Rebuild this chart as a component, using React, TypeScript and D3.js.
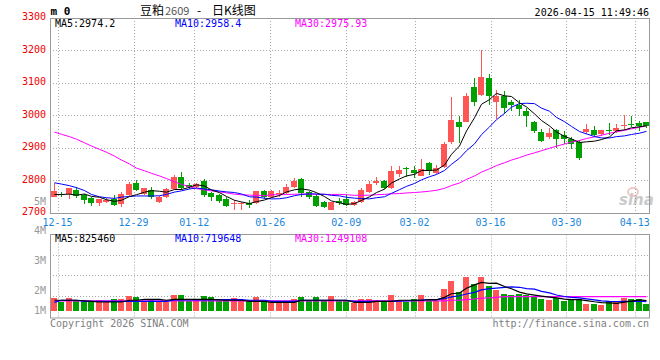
import React, { useEffect, useRef } from 'react';
import * as d3 from 'd3';

// trading days 2025-12-12 .. 2026-04-15 (MM-DD)
const dates = [
  '12-12', '12-15', '12-16', '12-17', '12-18', '12-19', '12-22', '12-23', '12-24', '12-25', '12-26', '12-29', '12-30', '12-31',
  '01-05', '01-06', '01-07', '01-08', '01-09', '01-12', '01-13', '01-14', '01-15', '01-16', '01-19', '01-20', '01-21', '01-22', '01-23',
  '01-26', '01-27', '01-28', '01-29', '01-30', '02-02', '02-03', '02-04', '02-05', '02-06', '02-09', '02-10', '02-11', '02-12', '02-13',
  '02-24', '02-25', '02-26', '02-27', '03-02', '03-03', '03-04', '03-05', '03-06', '03-09', '03-10', '03-11', '03-12', '03-13',
  '03-16', '03-17', '03-18', '03-19', '03-20', '03-23', '03-24', '03-25', '03-26', '03-27', '03-30', '03-31', '04-01', '04-02', '04-03',
  '04-07', '04-08', '04-09', '04-10', '04-13', '04-14', '04-15',
];

const openP = [
  2750, 2760, 2757, 2771, 2756, 2745, 2730, 2734, 2742, 2727,
  2756, 2791, 2758, 2771, 2734, 2748, 2773, 2812, 2785, 2779,
  2798, 2762, 2755, 2743, 2727, 2728, 2732, 2730, 2768, 2750,
  2760, 2762, 2780, 2804, 2765, 2752, 2733, 2710, 2738, 2743,
  2725, 2735, 2765, 2792, 2797, 2777, 2819, 2838, 2833, 2815,
  2855, 2822, 2841, 2917, 2979, 2981, 3089, 3064, 3114, 3042,
  3061, 3042, 3032, 3014, 2979, 2949, 2934, 2954, 2941, 2928,
  2917, 2949, 2956, 2942, 2955, 2952, 2968, 2975, 2976, 2979,
];
const highP = [
  2791, 2766, 2778, 2781, 2760, 2750, 2744, 2746, 2755, 2765,
  2796, 2801, 2778, 2781, 2752, 2777, 2816, 2827, 2792, 2793,
  2805, 2766, 2760, 2750, 2740, 2735, 2740, 2768, 2770, 2772,
  2770, 2788, 2807, 2807, 2768, 2758, 2737, 2735, 2746, 2757,
  2737, 2776, 2800, 2810, 2802, 2845, 2846, 2843, 2845, 2866,
  2856, 2847, 2917, 3057, 2997, 3069, 3115, 3203, 3129, 3079,
  3074, 3047, 3049, 3024, 2984, 2957, 2961, 2957, 2952, 2934,
  2924, 2975, 2969, 2956, 2977, 2975, 3001, 2998, 2983, 2980,
];
const lowP = [
  2748, 2750, 2743, 2747, 2727, 2723, 2722, 2731, 2722, 2717,
  2753, 2769, 2756, 2742, 2730, 2745, 2771, 2771, 2775, 2776,
  2749, 2737, 2732, 2720, 2710, 2708, 2715, 2728, 2743, 2747,
  2750, 2758, 2777, 2750, 2744, 2717, 2715, 2709, 2725, 2723,
  2722, 2732, 2762, 2787, 2775, 2775, 2812, 2812, 2809, 2813,
  2818, 2819, 2839, 2912, 2914, 2979, 3029, 3061, 3031, 2989,
  3004, 3014, 2997, 2964, 2947, 2919, 2929, 2899, 2911, 2897,
  2862, 2944, 2934, 2937, 2941, 2945, 2955, 2964, 2951, 2962,
];
const closeP = [
  2768, 2756, 2776, 2751, 2741, 2732, 2742, 2739, 2725, 2758,
  2789, 2771, 2777, 2748, 2750, 2774, 2812, 2778, 2781, 2789,
  2756, 2750, 2737, 2723, 2730, 2730, 2725, 2767, 2748, 2767,
  2762, 2780, 2800, 2762, 2748, 2723, 2720, 2733, 2732, 2724,
  2735, 2770, 2788, 2797, 2777, 2829, 2833, 2834, 2822, 2836,
  2830, 2839, 2911, 2987, 2964, 3061, 3042, 3119, 3059, 3059,
  3024, 3031, 3021, 2997, 2952, 2922, 2947, 2929, 2929, 2912,
  2868, 2957, 2939, 2954, 2952, 2963, 2970, 2972, 2969, 2968,
];

const ma5 = [
  2757, 2757, 2758, 2755, 2758.4, 2751.2, 2748.4, 2741, 2735.8, 2739.2,
  2750.6, 2756.4, 2764, 2768.6, 2767, 2764, 2772.2, 2772.4, 2779, 2786.8,
  2783.2, 2770.8, 2762.6, 2751, 2739.2, 2734, 2729, 2735, 2740, 2747.4,
  2753.8, 2764.8, 2771.4, 2774.2, 2770.4, 2762.6, 2750.6, 2737.2, 2731.2, 2726.4,
  2728.8, 2738.8, 2749.8, 2762.8, 2773.4, 2792.2, 2804.8, 2814, 2819, 2830.8,
  2831, 2832.2, 2847.6, 2880.6, 2906.2, 2952.4, 2993, 3034.6, 3049, 3068,
  3060.6, 3058.4, 3038.8, 3026.4, 3005, 2984.6, 2967.8, 2949.4, 2935.8, 2927.8,
  2917, 2919, 2921, 2926, 2934, 2953, 2955.6, 2962.2, 2965.2, 2968.4,
];
const ma10 = [
  2793, 2789, 2784, 2778, 2769, 2757, 2750, 2747, 2745, 2748.8,
  2750.9, 2752.4, 2752.5, 2752.2, 2753.1, 2757.3, 2764.3, 2768.2, 2773.8, 2776.9,
  2773.6, 2771.5, 2767.5, 2765, 2763, 2758.6, 2749.9, 2748.8, 2745.5, 2743.3,
  2743.9, 2746.9, 2753.2, 2757.1, 2758.9, 2758.2, 2757.7, 2754.3, 2752.7, 2748.4,
  2745.7, 2744.7, 2743.5, 2747, 2749.9, 2760.5, 2771.8, 2781.9, 2790.9, 2802.1,
  2811.6, 2818.5, 2830.8, 2849.8, 2868.5, 2891.7, 2912.6, 2941.1, 2964.8, 2987.1,
  3006.5, 3025.7, 3036.7, 3037.7, 3036.5, 3022.6, 3013.1, 2994.1, 2981.1, 2966.4,
  2950.8, 2943.4, 2935.2, 2930.9, 2930.9, 2935, 2937.3, 2941.6, 2945.6, 2951.2,
];
const ma30 = [
  2949, 2942, 2935, 2927, 2916, 2906, 2896, 2887, 2875, 2863,
  2851, 2838, 2830, 2822, 2814, 2806, 2796, 2788, 2781, 2775,
  2771, 2768, 2765, 2762, 2758, 2756, 2755, 2754, 2753, 2756.3,
  2756.1, 2756.9, 2757.7, 2758.1, 2758.3, 2758, 2757.3, 2757.1, 2757.3, 2756.2,
  2754.4, 2754.4, 2754.7, 2756.4, 2757.3, 2759.1, 2759.8, 2761.7, 2763, 2764.6,
  2767.1, 2770, 2775.8, 2784.6, 2792.4, 2803.5, 2814, 2825.8, 2836.1, 2845.9,
  2854.6, 2863, 2870.3, 2878.2, 2885, 2891.6, 2899.2, 2905.7, 2912.3, 2918.5,
  2923, 2929.2, 2934.2, 2939.5, 2945.3, 2949.8, 2954.3, 2958.9, 2963.8, 2968.2,
];

// volume, thousand lots
const volume = [
  1110, 790, 1110, 850, 850, 850, 940, 760, 1020, 1020,
  1290, 1200, 760, 940, 760, 760, 1370, 1370, 850, 940,
  1290, 1200, 850, 1020, 1110, 940, 850, 1200, 850, 760,
  760, 760, 1020, 1200, 850, 1200, 850, 1290, 850, 850,
  670, 1020, 1020, 940, 760, 1370, 940, 760, 1020, 1370,
  850, 850, 1900, 2600, 1670, 2950, 2340, 2950, 2160, 1810,
  1460, 1370, 1460, 1370, 1290, 1020, 940, 1110, 850, 1020,
  1020, 580, 580, 500, 850, 850, 1110, 1020, 1020, 580,
];
const volMa5 = [
  940, 940, 940, 940, 900, 850, 790, 790, 790, 790,
  940, 940, 1020, 1020, 1020, 940, 1020, 1020, 1020, 1020,
  1020, 1020, 970, 940, 940, 940, 850, 850, 850, 760,
  760, 760, 760, 940, 940, 940, 940, 940, 940, 940,
  760, 760, 760, 850, 850, 850, 940, 940, 940, 940,
  988, 970, 1198, 1514, 1574, 1994, 2292, 2502, 2414, 2442,
  2144, 1950, 1652, 1494, 1390, 1302, 1216, 1146, 1042, 988,
  988, 916, 810, 740, 706, 672, 778, 866, 970, 916,
];
const volMa10 = [
  760, 940, 940, 940, 850, 850, 850, 850, 850, 850,
  850, 850, 850, 850, 850, 850, 970, 970, 970, 970,
  970, 970, 990, 990, 990, 990, 940, 940, 940, 850,
  850, 850, 850, 940, 940, 940, 940, 940, 940, 940,
  850, 850, 850, 850, 850, 850, 860, 880, 920, 960,
  1005, 988, 1076, 1242, 1333, 1491, 1631, 1850, 1964, 2008,
  2069, 2121, 2077, 1954, 1916, 1723, 1583, 1399, 1268, 1189,
  1145, 1066, 978, 891, 847, 830, 847, 838, 855, 811,
];
const volMa30 = [
  880, 880, 880, 880, 880, 880, 880, 880, 880, 880,
  880, 880, 880, 880, 880, 880, 880, 880, 880, 880,
  880, 880, 880, 880, 880, 880, 880, 880, 880, 880,
  880, 880, 880, 880, 880, 880, 880, 880, 880, 880,
  880, 880, 880, 880, 880, 880, 880, 880, 880, 880,
  880, 880, 880, 940, 960, 1000, 1050, 1120, 1150, 1200,
  1260, 1260, 1260, 1260, 1260, 1260, 1260, 1260, 1260, 1260,
  1260, 1260, 1260, 1260, 1260, 1260, 1260, 1260, 1260, 1260,
];

const priceTicks = [2700, 2800, 2900, 3000, 3100, 3200, 3300];
const dateTicks = ['12-15', '12-29', '01-12', '01-26', '02-09', '03-02', '03-16', '03-30', '04-13'];
const volTicks = [1, 2, 3, 4, 5]; // millions
const priceLegend = ['MA5:2974.2', 'MA10:2958.4', 'MA30:2975.93'];
const volLegend = ['MA5:825460', 'MA10:719648', 'MA30:1249108'];

const W = 660;
const H = 360;
const MONO = '"DejaVu Sans Mono", "Liberation Mono", monospace';
const CJK = '"Noto Sans CJK SC", "Noto Sans", sans-serif';
const UP = '#ff5555';
const DOWN = '#00a000';
const lineColors = ['#000000', '#0000ff', '#ff00ff'];

const App = () => {
  const ref = useRef<SVGSVGElement>(null);

  useEffect(() => {
    const svg = d3.select(ref.current);
    svg.selectAll('*').remove();

    const left = 50, right = 650;
    const pTop = 18, pBot = 213;
    const vTop = 234.5, vBot = 318, vBase = 311;

    const x = d3.scaleBand().domain(dates).range([left, right]).paddingInner(0.2).paddingOuter(0.1);
    const xGrid = d3.scalePoint().domain(dates).range([left, right]);
    const y = d3.scaleLinear().domain([2700, 3300]).range([pBot, pTop]);
    const yVol = d3.scaleLinear().domain([0, 6700]).range([vBase, vTop]);
    const yVolGrid = d3.scaleLinear().domain([0, 4]).range([vBot - 1, vTop]);
    const yVolLabel = d3.scaleLinear().domain([2, 5]).range([290.3, 200.9]);
    const bx = (d: string) => Math.round(x(d) as number);
    const gx = (d: string) => Math.round(xGrid(d) as number) + 0.5;

    svg.append('rect').attr('width', W).attr('height', H).attr('fill', '#fff');

    // grid
    const grid = svg.append('g').attr('stroke', '#a8a8a8').attr('stroke-dasharray', '1,2').attr('fill', 'none');
    priceTicks.slice(1, -1).forEach(p => {
      const yy = Math.floor(y(p)) + 0.5;
      grid.append('line').attr('x1', left).attr('x2', right).attr('y1', yy).attr('y2', yy);
    });
    [1, 2, 3].forEach(k => {
      const yy = Math.floor(yVolGrid(k)) + 0.5;
      grid.append('line').attr('x1', left).attr('x2', right).attr('y1', yy).attr('y2', yy);
    });
    dateTicks.forEach(d => {
      grid.append('line').attr('x1', gx(d)).attr('x2', gx(d)).attr('y1', pTop).attr('y2', pBot);
      grid.append('line').attr('x1', gx(d)).attr('x2', gx(d)).attr('y1', vTop).attr('y2', vBot);
    });

    // candles
    const candles = svg.append('g').attr('shape-rendering', 'crispEdges');
    dates.forEach((d, i) => {
      const o = openP[i], c = closeP[i];
      const col = c >= o ? UP : DOWN;
      const l = bx(d);
      const hy = Math.round(y(highP[i])), ly = Math.round(y(lowP[i]));
      candles.append('rect').attr('x', l + 3).attr('y', hy).attr('width', 1).attr('height', Math.max(1, ly - hy)).attr('fill', col);
      const top = Math.round(y(Math.max(o, c))), bot = Math.round(y(Math.min(o, c)));
      candles.append('rect').attr('x', l).attr('y', top).attr('width', 6).attr('height', Math.max(1, bot - top)).attr('fill', col);
      // volume bar
      const vt = Math.round(yVol(volume[i]));
      candles.append('rect').attr('x', l).attr('y', vt).attr('width', 6).attr('height', vBase - vt).attr('fill', col);
    });

    // moving averages
    const priceLine = d3.line<number>().x((_, i) => bx(dates[i]) + 3.5).y(v => y(v));
    const volLine = d3.line<number>().x((_, i) => bx(dates[i]) + 3.5).y(v => yVol(v));
    [ma30, ma10, ma5].forEach((s, k) => {
      svg.append('path').attr('d', priceLine(s)).attr('fill', 'none').attr('stroke', lineColors[2 - k]).attr('stroke-width', 1);
    });
    [volMa30, volMa10, volMa5].forEach((s, k) => {
      svg.append('path').attr('d', volLine(s)).attr('fill', 'none').attr('stroke', lineColors[2 - k]).attr('stroke-width', 1.2);
    });

    // frames
    svg.append('rect').attr('x', left + 0.5).attr('y', pTop + 0.5).attr('width', right - left - 1).attr('height', pBot - pTop)
      .attr('fill', 'none').attr('stroke', '#999');
    svg.append('rect').attr('x', left + 0.5).attr('y', vTop).attr('width', right - left - 1).attr('height', vBot - vTop)
      .attr('fill', 'none').attr('stroke', '#999');

    const text = (tx: number, ty: number, s: string, fill: string, anchor = 'start', size = 10) =>
      svg.append('text').attr('x', tx).attr('y', ty).attr('fill', fill).attr('font-size', size)
        .attr('font-family', MONO).attr('text-anchor', anchor).text(s);

    // axes labels
    priceTicks.forEach(p => text(46, y(p) + 2, String(p), '#ee0000', 'end'));
    dateTicks.forEach(d => text(xGrid(d) as number, 225.5, d, '#1a88dd', 'middle'));
    volTicks.forEach(v => text(46, Math.min(yVolLabel(v), 310.7) + 3.7, `${v}M`, '#999', 'end'));

    // legends
    priceLegend.forEach((s, k) => text(55 + 120 * k, 27, s, lineColors[k]));
    volLegend.forEach((s, k) => text(55 + 120 * k, 242, s, lineColors[k]));

    // header
    text(50.5, 15, 'm 0', '#000', 'start', 11).attr('font-weight', 'bold');
    const title = svg.append('text').attr('y', 14.5).attr('font-size', 12).attr('font-family', CJK).attr('fill', '#000');
    title.append('tspan').attr('x', 140).text('豆粕');
    title.append('tspan').attr('x', 165).attr('fill', '#555').attr('font-size', 11).text('2609');
    title.append('tspan').attr('x', 197).text('-');
    title.append('tspan').attr('x', 212).text('日K线图');
    text(649, 15.5, '2026-04-15 11:49:46', '#000', 'end');

    // footer
    text(50, 327, 'Copyright 2026 SINA.COM', '#808080');
    text(649, 327, 'http://finance.sina.com.cn', '#808080', 'end');

    // watermark
    const wm = svg.append('g').attr('opacity', 0.55);
    wm.append('ellipse').attr('cx', 633).attr('cy', 192).attr('rx', 5).attr('ry', 4)
      .attr('fill', 'none').attr('stroke', '#e08080').attr('stroke-width', 1.5);
    wm.append('text').attr('x', 619).attr('y', 205).attr('font-size', 15).attr('font-weight', 'bold')
      .attr('font-style', 'italic').attr('font-family', 'DejaVu Sans, sans-serif').attr('fill', '#a0a0a0').text('sina');
  }, []);

  return (
    <svg ref={ref} width={W} height={H} style={{ position: 'absolute', left: 0, top: 0, display: 'block' }} />
  );
};

export default App;
